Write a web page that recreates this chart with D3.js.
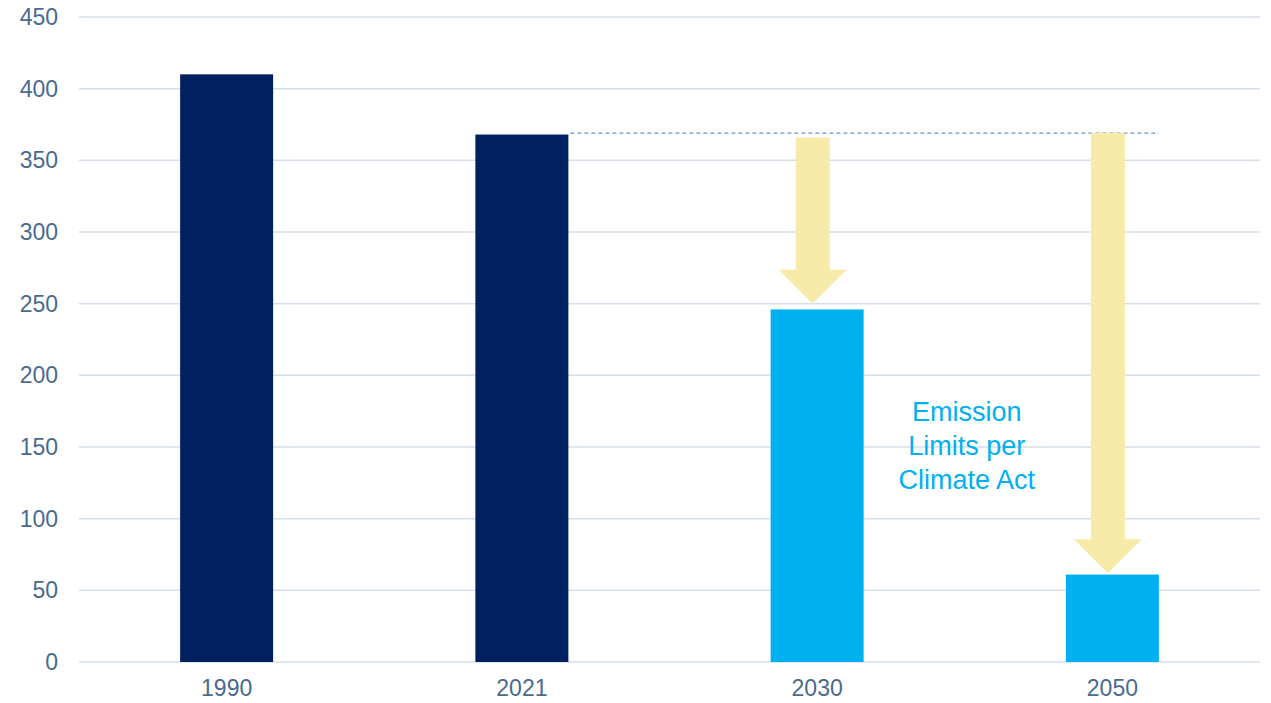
<!DOCTYPE html>
<html>
<head>
<meta charset="utf-8">
<script src="https://cdn.jsdelivr.net/npm/d3@7"></script>
<style>
  html, body { margin: 0; padding: 0; background: #fff; }
  svg { display: block; font-family: "Liberation Sans", Arial, sans-serif; }
</style>
</head>
<body>
<svg width="1271" height="703"></svg>
<script>
// data
const years = ['1990', '2021', '2030', '2050']
const emissions = [410, 368, 246, 61]
const isLimit = [false, false, true, true]
const yTicks = [0, 50, 100, 150, 200, 250, 300, 350, 400, 450]
// arrows: from value -> to value, per target year
const arrowYears = ['2030', '2050']
const arrowFrom = [366, 369]
const arrowTo = [250, 62]
const baselineLevel = 369
const noteLines = ['Emission', 'Limits per', 'Climate Act']

const svg = d3.select('svg')
const width = 1271, height = 703
const margin = { top: 17, right: 11, bottom: 41, left: 79 }
const innerW = width - margin.left - margin.right
const innerH = height - margin.top - margin.bottom

const x = d3.scaleBand()
    .domain(years)
    .range([0, innerW])
    .paddingInner(0.685)
    .paddingOuter(0.3425)

const y = d3.scaleLinear()
    .domain([0, 450])
    .range([innerH, 0])

const g = svg.append('g')
    .attr('transform', `translate(${margin.left},${margin.top})`)

// gridlines
g.append('g')
    .selectAll('line').data(yTicks)
    .enter().append('line')
    .attr('x1', 0).attr('x2', innerW)
    .attr('y1', d => y(d)).attr('y2', d => y(d))
    .attr('stroke', '#D6DFE9').attr('stroke-width', 1.5)

// y tick labels
const yAxis = g.append('g').call(d3.axisLeft(y).tickValues(yTicks).tickSize(0).tickPadding(21))
yAxis.select('.domain').remove()
yAxis.selectAll('text')
    .attr('fill', '#4A6A8E')
    .style('font-size', '23px')
    .style('font-family', '"Liberation Sans", Arial, sans-serif')

// x labels
const xAxis = g.append('g')
    .attr('transform', `translate(0,${innerH})`)
    .call(d3.axisBottom(x).tickSize(0).tickPadding(18))
xAxis.select('.domain').remove()
xAxis.selectAll('text')
    .attr('fill', '#4A6A8E')
    .style('font-size', '23px')
    .style('font-family', '"Liberation Sans", Arial, sans-serif')

// bars
g.selectAll('rect.bar').data(years)
    .enter().append('rect')
    .attr('class', 'bar')
    .attr('x', d => x(d))
    .attr('y', (d, i) => y(emissions[i]))
    .attr('width', x.bandwidth())
    .attr('height', (d, i) => y(0) - y(emissions[i]))
    .attr('fill', (d, i) => isLimit[i] ? '#00B0F0' : '#002060')

// dashed reference line from 2021 bar to 2050 bar
g.append('line')
    .attr('x1', x('2021') + x.bandwidth() + 2)
    .attr('x2', x('2050') + x.bandwidth())
    .attr('y1', y(baselineLevel)).attr('y2', y(baselineLevel))
    .attr('stroke', '#6E93C6').attr('stroke-width', 1.2)
    .attr('stroke-dasharray', '4,3')

// down arrows, sitting a little left of the bar centre
const shaftW = 34, headW = 68, headH = 34
arrowYears.forEach((yr, i) => {
    const cx = x(yr) + x.bandwidth() / 2 - 4.5
    const y0 = y(arrowFrom[i]), y1 = y(arrowTo[i])
    const hy = y1 - headH
    const pts = [
        [cx - shaftW / 2, y0], [cx + shaftW / 2, y0], [cx + shaftW / 2, hy],
        [cx + headW / 2, hy], [cx, y1], [cx - headW / 2, hy], [cx - shaftW / 2, hy]
    ]
    g.append('polygon')
        .attr('points', pts.map(p => p.join(',')).join(' '))
        .attr('fill', '#F7EBA9')
})

// note text
const noteX = (x('2030') + x('2050') + x.bandwidth()) / 2 + 2
const note = g.append('text')
    .attr('x', noteX)
    .attr('y', y(168))
    .attr('text-anchor', 'middle')
    .attr('fill', '#00B0F0')
    .style('font-size', '27px')
note.selectAll('tspan').data(noteLines)
    .enter().append('tspan')
    .attr('x', noteX)
    .attr('dy', (d, i) => i === 0 ? 0 : 34)
    .text(d => d)
</script>
</body>
</html>
